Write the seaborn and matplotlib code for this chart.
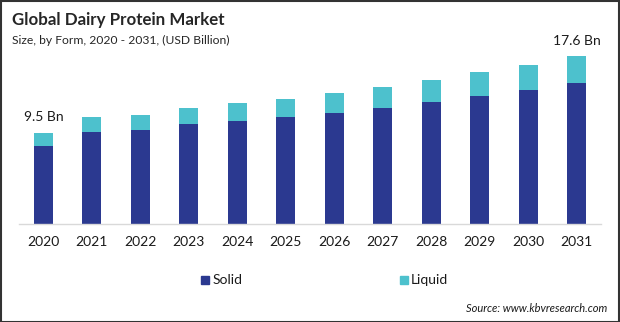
import matplotlib
matplotlib.use("Agg")
import matplotlib.pyplot as plt
import seaborn as sns
import pandas as pd
from matplotlib.patches import Rectangle

years = ["2020", "2021", "2022", "2023", "2024", "2025", "2026", "2027", "2028", "2029", "2030", "2031"]
solid = [8.2, 9.6, 9.8, 10.5, 10.8, 11.2, 11.6, 12.1, 12.8, 13.4, 14.0, 14.8]
liquid = [1.3, 1.6, 1.6, 1.6, 1.9, 1.9, 2.1, 2.2, 2.3, 2.5, 2.7, 2.8]
series_names = ["Solid", "Liquid"]
first_label = "9.5 Bn"
last_label = "17.6 Bn"

C_SOLID = "#2B3990"
C_LIQUID = "#4DC1CD"

sns.set_theme(style="white")
plt.rcParams["font.family"] = ["Lato", "DejaVu Sans"]

df = pd.DataFrame({"Year": years, "Solid": solid, "Liquid": liquid})
df["Total"] = df["Solid"] + df["Liquid"]

fig = plt.figure(figsize=(6.2, 3.22), dpi=100)
ax = fig.add_axes([19 / 620, (322 - 224) / 322, (601 - 19) / 620, 184 / 322])

sns.barplot(data=df, x="Year", y="Total", color=C_LIQUID, width=0.39,
            saturation=1, ax=ax, linewidth=0)
sns.barplot(data=df, x="Year", y="Solid", color=C_SOLID, width=0.39,
            saturation=1, ax=ax, linewidth=0)

ax.set_xlim(-0.5, 11.5)
ax.set_ylim(0, 184 / 9.55)
for s in ["top", "right", "left"]:
    ax.spines[s].set_visible(False)
ax.spines["bottom"].set_color("#d9d9d9")
ax.spines["bottom"].set_linewidth(1.0)
ax.set_yticks([])
ax.set_xlabel("")
ax.set_ylabel("")
ax.tick_params(axis="x", length=0, pad=9, labelsize=10, labelcolor="#1a1a1a")

ax.text(0 - 0.4, df["Total"].iloc[0] + 1.75, first_label, ha="left", va="center",
        fontsize=10, color="#1a1a1a")
ax.text(11 + 0.5, df["Total"].iloc[-1] + 1.55, last_label, ha="right", va="center",
        fontsize=10, color="#1a1a1a")

fig.text(12 / 620, 1 - 20 / 322, "Global Dairy Protein Market", ha="left", va="center",
         fontsize=12.2, fontweight="bold", color="#262626")
fig.text(12 / 620, 1 - 40 / 322, "Size, by Form, 2020 - 2031, (USD Billion)", ha="left",
         va="center", fontsize=8.7, color="#262626")

# legend
fig.patches.append(Rectangle((201 / 620, 1 - 284 / 322), 8 / 620, 8 / 322,
                             transform=fig.transFigure, color=C_SOLID))
fig.text(213 / 620, 1 - 280 / 322, series_names[0], ha="left", va="center",
         fontsize=10, color="#1a1a1a")
fig.patches.append(Rectangle((400 / 620, 1 - 284 / 322), 8 / 620, 8 / 322,
                             transform=fig.transFigure, color=C_LIQUID))
fig.text(411 / 620, 1 - 280 / 322, series_names[1], ha="left", va="center",
         fontsize=10, color="#1a1a1a")

fig.text(607 / 620, 1 - 309 / 322, "Source: www.kbvresearch.com", ha="right",
         va="center", fontsize=8, style="italic", color="#1a1a1a")

# frame
fig.patches.append(Rectangle((0.5 / 620, 0.5 / 322), 618.5 / 620, 320.5 / 322,
                             transform=fig.transFigure, fill=False,
                             edgecolor="#333333", linewidth=1.5))

fig.savefig("out.png", dpi=100)
